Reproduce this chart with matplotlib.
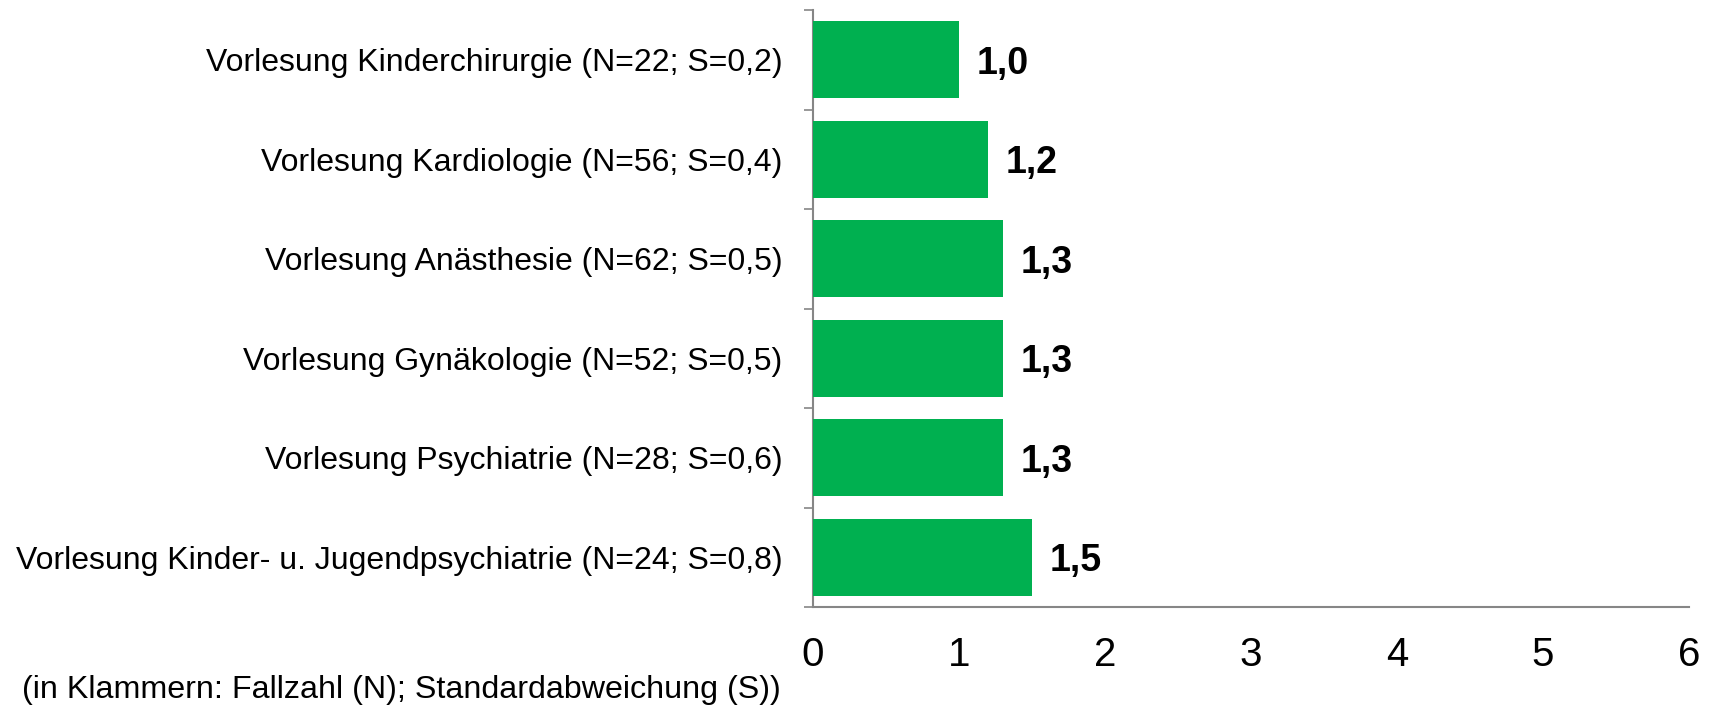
import matplotlib
matplotlib.use("Agg")
import matplotlib.pyplot as plt
import numpy as np

plt.rcParams['font.family'] = ['Liberation Sans', 'DejaVu Sans']

categories = [
    "Vorlesung Kinderchirurgie (N=22; S=0,2)",
    "Vorlesung Kardiologie (N=56; S=0,4)",
    "Vorlesung Anästhesie (N=62; S=0,5)",
    "Vorlesung Gynäkologie (N=52; S=0,5)",
    "Vorlesung Psychiatrie (N=28; S=0,6)",
    "Vorlesung Kinder- u. Jugendpsychiatrie (N=24; S=0,8)",
]
values = [1.0, 1.2, 1.3, 1.3, 1.3, 1.5]
value_labels = ["1,0", "1,2", "1,3", "1,3", "1,3", "1,5"]
xticks = [0, 1, 2, 3, 4, 5, 6]
footnote = "(in Klammern: Fallzahl (N); Standardabweichung (S))"

W, H = 1711, 708
fig = plt.figure(figsize=(W / 100, H / 100), dpi=100)
ax = fig.add_axes([813 / W, 1 - 607 / H, (1689 - 813) / W, (607 - 10) / H])

n = len(categories)
y = np.arange(n)
ax.barh(y, values, height=0.775, color="#00B050", zorder=3)
ax.set_ylim(n - 0.5, -0.5)
ax.set_xlim(0, 6)

ax.set_yticks(y)
ax.set_yticklabels(categories, fontsize=23)
ax.set_yticks(np.arange(-0.5, n, 1.0), minor=True)
ax.tick_params(axis="y", which="major", length=0, pad=22)
ax.tick_params(axis="y", which="minor", length=6.5, width=1.2, color="#868686", direction="out")

ax.set_xticks(xticks)
ax.set_xticklabels([str(t) for t in xticks], fontsize=29)
ax.tick_params(axis="x", length=0, pad=21)

for s in ["top", "right"]:
    ax.spines[s].set_visible(False)
for s in ["left", "bottom"]:
    ax.spines[s].set_color("#868686")
    ax.spines[s].set_linewidth(1.5)

for yi, v, lab in zip(y, values, value_labels):
    ax.text(v + 0.12, yi + 0.04, lab, va="center", ha="left", fontsize=27, fontweight="bold", color="black")

fig.text(22 / W, 1 - 690 / H, footnote, fontsize=23.2, ha="left", va="center")

fig.savefig("out.png", dpi=100)
